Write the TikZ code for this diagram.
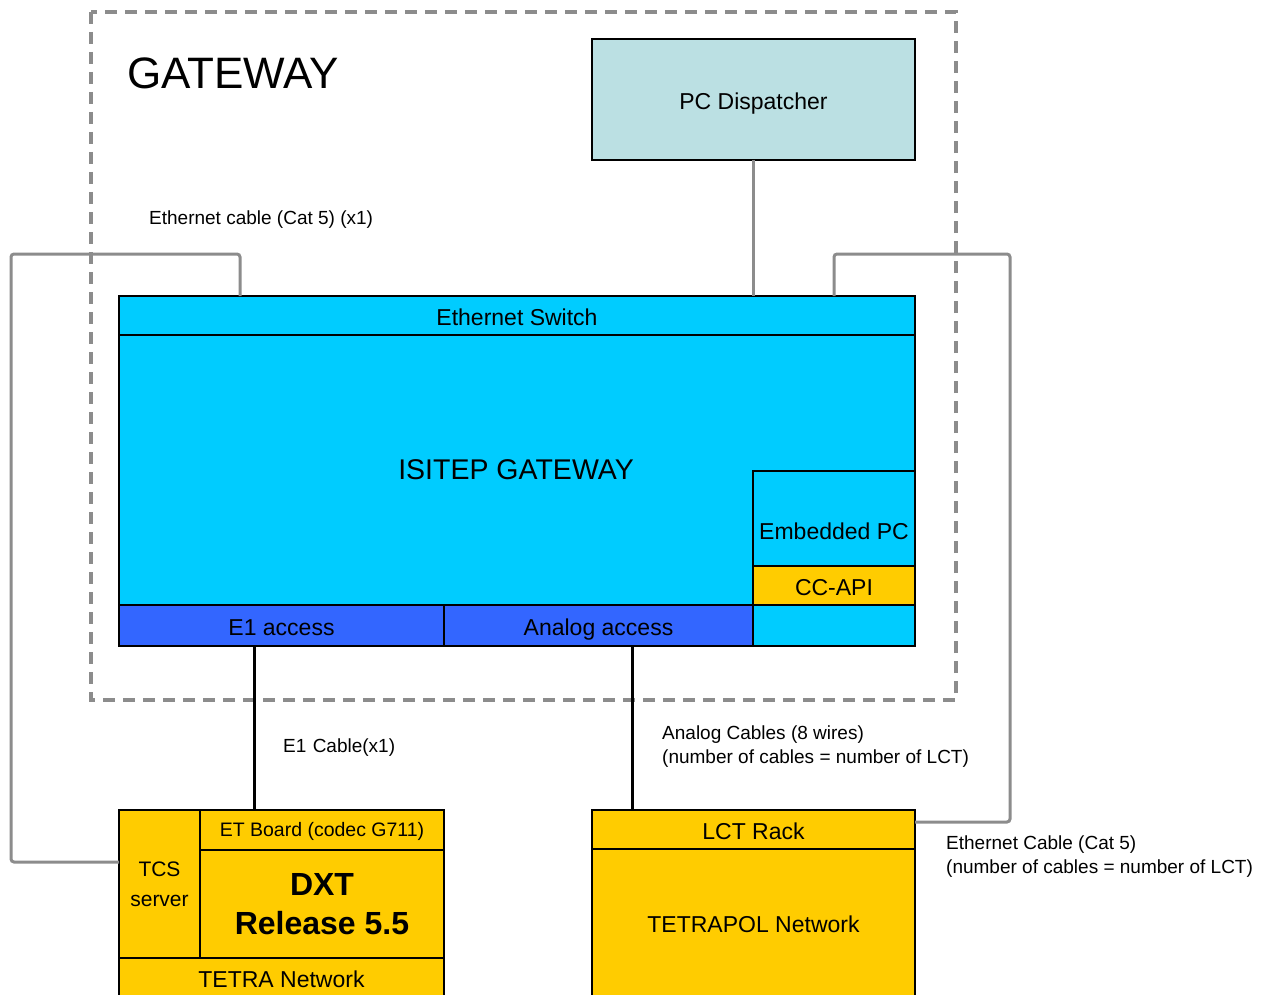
\documentclass[tikz,border=0pt]{standalone}
\usepackage{fontspec}
\setmainfont{Liberation Sans}
\definecolor{cyanbox}{HTML}{00CCFF}
\definecolor{bluebox}{HTML}{3366FF}
\definecolor{yellowbox}{HTML}{FFCC00}
\definecolor{pcdbox}{HTML}{BBE0E3}
\definecolor{cablegray}{HTML}{8C8C8C}
\begin{document}
\begin{tikzpicture}[x=1pt,y=1pt,
  box/.style={draw=black, line width=1.2pt, inner sep=0pt, outer sep=0pt, anchor=center, align=center, font=\fontsize{23}{26}\selectfont},
  onebox/.style={box, text height=19.5pt, text depth=0pt},
  lbl/.style={inner sep=0pt, anchor=west, align=left, font=\fontsize{19}{24}\selectfont},
  eth/.style={draw=cablegray, line width=3pt, rounded corners=3pt},
  blk/.style={draw=black, line width=3pt},
  gw/.style={draw=cablegray, line width=3.5pt, dash pattern=on 12pt off 8pt}]
\useasboundingbox (0,0) rectangle (1268,-995);
% gateway dashed frame
\draw[gw] (91,-12) rectangle (956,-700);
\node[inner sep=0pt, anchor=west, font=\fontsize{44}{48}\selectfont] (gwtitle) at (127,-73) {GATEWAY};
% PC dispatcher
\node[onebox, fill=pcdbox, minimum width=323pt, minimum height=121pt] (pcd) at (753.5,-99.5) {PC Dispatcher};
% ISITEP gateway
\node[box, fill=cyanbox, minimum width=796pt, minimum height=311pt] (isi) at (517,-490.5) {};
\node[inner sep=0pt, font=\fontsize{28.5}{32}\selectfont] (isitxt) at (516,-470) {ISITEP GATEWAY};
\node[onebox, fill=cyanbox, minimum width=796pt, minimum height=39pt] (sw) at (517,-315.5) {Ethernet Switch};
\node[box, fill=cyanbox, minimum width=162pt, minimum height=95pt] (epc) at (834,-518.5) {};
\node[inner sep=0pt, text height=19.5pt, text depth=0pt, font=\fontsize{23}{26}\selectfont] (epctxt) at (834,-530) {Embedded PC};
\node[onebox, fill=yellowbox, minimum width=162pt, minimum height=39pt] (api) at (834,-585.5) {CC-API};
\node[onebox, fill=cyanbox, minimum width=162pt, minimum height=41pt] (cell) at (834,-625.5) {};
\node[onebox, fill=bluebox, minimum width=325pt, minimum height=41pt] (e1) at (281.5,-625.5) {E1 access};
\node[onebox, fill=bluebox, minimum width=309pt, minimum height=41pt] (ana) at (598.5,-625.5) {Analog access};
% DXT
\node[box, fill=yellowbox, minimum width=81pt, minimum height=148pt, font=\fontsize{21}{30}\selectfont] (tcs) at (159.5,-884) {TCS\\server};
\node[onebox, fill=yellowbox, minimum width=244pt, minimum height=40pt, font=\fontsize{19.5}{22}\selectfont, text height=14pt, text depth=2pt] (etb) at (322,-830) {ET Board (codec G711)};
\node[box, fill=yellowbox, minimum width=244pt, minimum height=108pt, font=\fontsize{32}{39}\selectfont\bfseries] (dxt) at (322,-904) {DXT\\Release 5.5};
\node[onebox, fill=yellowbox, minimum width=325pt, minimum height=40pt] (tetra) at (281.5,-978) {TETRA Network};
% LCT
\node[onebox, fill=yellowbox, minimum width=323pt, minimum height=39pt] (lct) at (753.5,-829.5) {LCT Rack};
\node[onebox, fill=yellowbox, minimum width=323pt, minimum height=148pt] (tpol) at (753.5,-923) {TETRAPOL Network};
% connectors
\coordinate (lbend) at (11,-254);
\coordinate (rbend) at (1010,-254);
\draw[eth] ([xshift=-277pt]sw.north) |- (lbend) |- ([yshift=22pt]tcs.west);
\draw[eth] ([xshift=317pt]sw.north) |- (rbend) |- ([yshift=7.5pt]lct.east);
\draw[draw=cablegray, line width=3pt] (pcd.south) -- (pcd.south |- sw.north);
\draw[blk] ([xshift=-27.5pt]e1.south) -- ([xshift=-68pt]etb.north);
\draw[blk] ([xshift=33.5pt]ana.south) -- ([xshift=-121.5pt]lct.north);
% labels
\node[lbl] (l1) at (149,-220) {Ethernet cable (Cat 5) (x1)};
\node[lbl] (l2) at (283,-748) {E1\,\,Cable(x1)};
\node[lbl] (l3) at (662,-747) {Analog Cables (8 wires)\\(number of cables = number of LCT)};
\node[lbl] (l4) at (946,-856.5) {Ethernet Cable (Cat 5)\\(number of cables = number of LCT)};
\end{tikzpicture}
\end{document}
